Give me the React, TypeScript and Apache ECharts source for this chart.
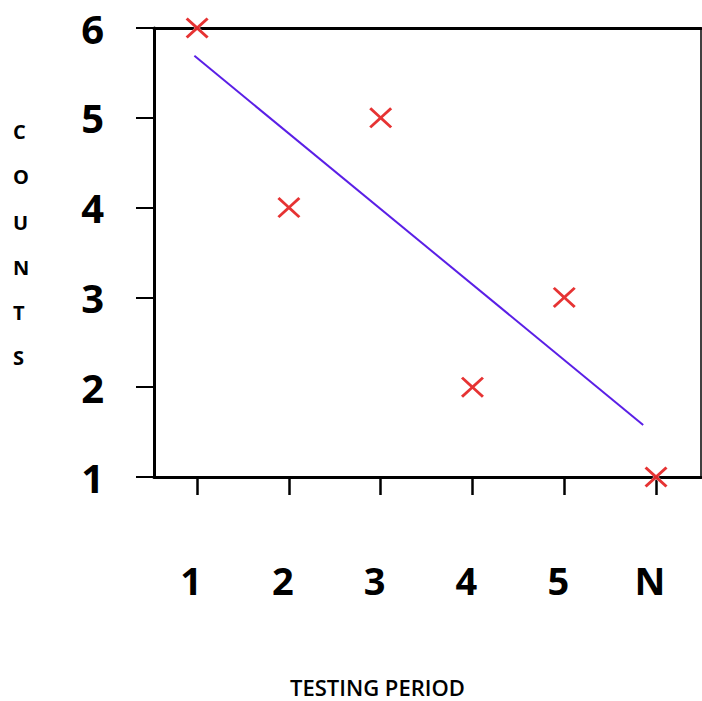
import React, { useEffect, useRef } from "react";
import * as echarts from "echarts";

const periodLabels = ["1", "2", "3", "4", "5", "N"];
const periodX = [1, 2, 3, 4, 5, 6];
const counts = [6, 4, 5, 2, 3, 1];
const trendX = [0.97, 5.86];
const trendY = [5.69, 1.58];
const yTicks = [1, 2, 3, 4, 5, 6];

const X_PATH =
  "path://M0,9 L9,0 L50,41 L91,0 L100,9 L59,50 L100,91 L91,100 L50,59 L9,100 L0,91 L41,50 Z";

export default function App() {
  const ref = useRef<HTMLDivElement>(null);
  useEffect(() => {
    if (!ref.current) return;
    const chart = echarts.init(ref.current, null, { renderer: "svg" });
    const font = "'Open Sans', 'Noto Sans', sans-serif";
    const points = periodX.map((x, i) => [x, counts[i]]);
    chart.setOption({
      animation: false,
      backgroundColor: "#ffffff",
      grid: { left: 154, right: 1, top: 28, bottom: 224, show: false },
      xAxis: [
        {
          type: "value",
          min: 0.53,
          max: 6.49,
          axisLine: { show: true, onZero: false, lineStyle: { color: "#000", width: 3 } },
          axisTick: {
            show: true,
            customValues: periodX,
            length: 18,
            lineStyle: { color: "#000", width: 2.5 },
          },
          axisLabel: {
            customValues: periodX,
            margin: 84,
            padding: [0, 12, 0, 0],
            fontFamily: font,
            fontWeight: "bold",
            fontSize: 38,
            color: "#000",
            formatter: (v: number) => periodLabels[periodX.indexOf(v)] ?? "",
          },
          splitLine: { show: false },
        },
        {
          type: "value",
          position: "top",
          min: 0.53,
          max: 6.49,
          axisLine: { show: true, onZero: false, lineStyle: { color: "#000", width: 3 } },
          axisTick: { show: false },
          axisLabel: { show: false },
          splitLine: { show: false },
        },
      ],
      yAxis: [
        {
          type: "value",
          min: 1,
          max: 6,
          interval: 1,
          axisLine: { show: true, onZero: false, lineStyle: { color: "#000", width: 3 } },
          axisTick: { show: true, length: 18, lineStyle: { color: "#000", width: 2 } },
          axisLabel: {
            margin: 50,
            fontFamily: font,
            fontWeight: "bold",
            fontSize: 40,
            color: "#000",
            formatter: (v: number) => (yTicks.includes(v) ? String(v) : ""),
          },
          splitLine: { show: false },
        },
        {
          type: "value",
          position: "right",
          min: 1,
          max: 6,
          interval: 1,
          axisLine: { show: true, onZero: false, lineStyle: { color: "#000", width: 1.5 } },
          axisTick: { show: false },
          axisLabel: { show: false },
          splitLine: { show: false },
        },
      ],
      series: [
        {
          type: "line",
          data: trendX.map((x, i) => [x, trendY[i]]),
          showSymbol: false,
          symbol: "none",
          lineStyle: { color: "#5a1fe6", width: 2 },
          z: 3,
          silent: true,
        },
        {
          type: "scatter",
          data: points,
          symbol: X_PATH,
          symbolSize: [29, 27],
          clip: false,
          itemStyle: { color: "#ffffff" },
          z: 4,
          silent: true,
        },
        {
          type: "scatter",
          data: points,
          symbol: X_PATH,
          symbolSize: [23, 21],
          clip: false,
          itemStyle: { color: "#e00000" },
          z: 5,
        },
      ],
      graphic: [
        {
          type: "text",
          left: 13,
          top: 109,
          style: {
            text: "C\nO\nU\nN\nT\nS",
            fontFamily: font,
            fontSize: 20,
            fontWeight: "bold",
            lineHeight: 45.2,
            fill: "#000",
            align: "center",
          },
        },
        {
          type: "text",
          left: 290,
          top: 676,
          style: {
            text: "TESTING PERIOD",
            fontFamily: font,
            fontSize: 22,
            fontWeight: 600,
            fill: "#000",
          },
        },
      ],
    });
    return () => chart.dispose();
  }, []);
  return (
    <div
      ref={ref}
      style={{ position: "fixed", left: 0, top: 0, width: 702, height: 701 }}
    />
  );
}
